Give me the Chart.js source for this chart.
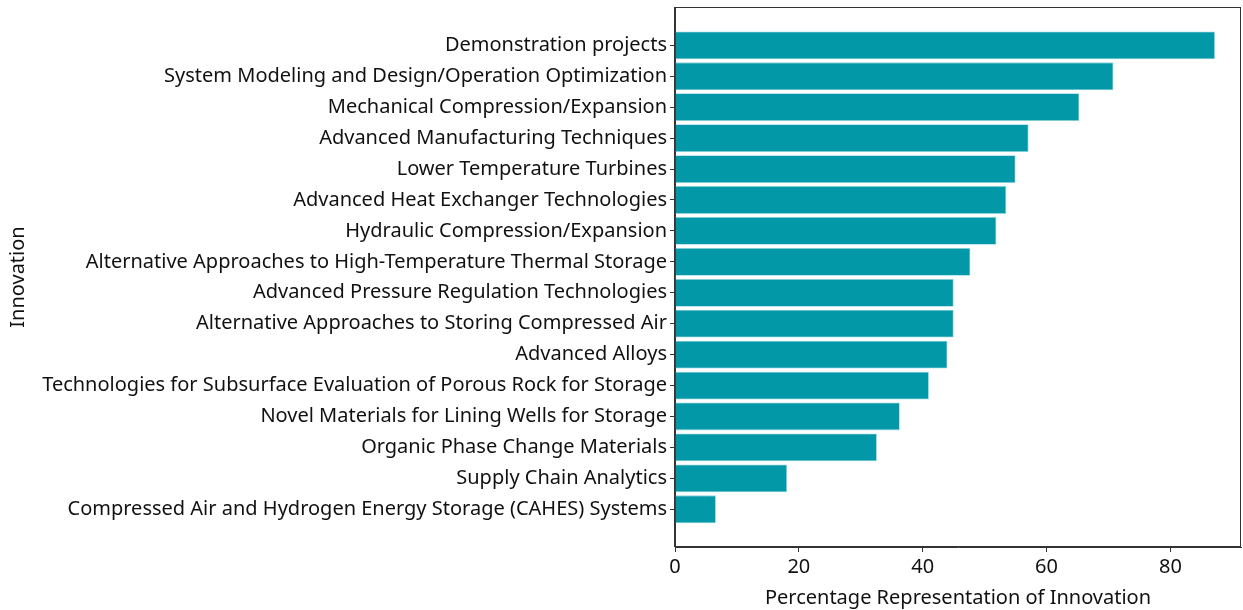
<!DOCTYPE html>
<html>
<head>
<meta charset="utf-8">
<script src="https://cdn.jsdelivr.net/npm/chart.js@4/dist/chart.umd.min.js"></script>
<style>
  html, body { margin: 0; padding: 0; background: #fff; }
  #wrap { width: 1243px; height: 610px; position: relative; }
</style>
</head>
<body>
<div id="wrap"><canvas id="c" width="1243" height="610"></canvas></div>
<script>
const categories = [
  "Demonstration projects",
  "System Modeling and Design/Operation Optimization",
  "Mechanical Compression/Expansion",
  "Advanced Manufacturing Techniques",
  "Lower Temperature Turbines",
  "Advanced Heat Exchanger Technologies",
  "Hydraulic Compression/Expansion",
  "Alternative Approaches to High-Temperature Thermal Storage",
  "Advanced Pressure Regulation Technologies",
  "Alternative Approaches to Storing Compressed Air",
  "Advanced Alloys",
  "Technologies for Subsurface Evaluation of Porous Rock for Storage",
  "Novel Materials for Lining Wells for Storage",
  "Organic Phase Change Materials",
  "Supply Chain Analytics",
  "Compressed Air and Hydrogen Energy Storage (CAHES) Systems"
];
const values = [87.2, 70.8, 65.3, 57.1, 55.0, 53.5, 51.9, 47.7, 45.0, 45.0, 44.0, 41.0, 36.3, 32.6, 18.1, 6.6];
const xTicks = [0, 20, 40, 60, 80];
const xTitle = "Percentage Representation of Innovation";
const yTitle = "Innovation";

const FONT = "'Noto Sans', 'Open Sans', sans-serif";
const TEXT = "#111";

const frame = {
  id: 'frame',
  afterDraw(chart) {
    const a = chart.chartArea, ctx = chart.ctx;
    ctx.save();
    ctx.strokeStyle = '#333';
    ctx.lineWidth = 1;
    ctx.strokeRect(Math.round(a.left) - 0.5, Math.round(a.top) + 0.5, Math.round(a.right - a.left), Math.round(a.bottom - a.top) - 1);
    ctx.restore();
  }
};

const data = values.map((v, i) => ({ x: v, y: i }));

new Chart(document.getElementById('c'), {
  type: 'bar',
  data: {
    datasets: [{
      data: data,
      backgroundColor: '#0398a8',
      borderColor: '#8fd3dc',
      borderWidth: 0.8,
      barPercentage: 0.9,
      categoryPercentage: 1.0
    }]
  },
  options: {
    indexAxis: 'y',
    responsive: false,
    animation: false,
    layout: { padding: { top: 5, right: 2, left: 0, bottom: 0 } },
    plugins: { legend: { display: false }, tooltip: { enabled: false } },
    scales: {
      x: {
        type: 'linear',
        min: 0,
        max: 91.4,
        afterBuildTicks(scale) { scale.ticks = xTicks.map(v => ({ value: v })); },
        afterFit(scale) { scale.height = 63; },
        ticks: { color: TEXT, font: { family: FONT, size: 20 }, padding: 3, maxRotation: 0 },
        grid: { drawOnChartArea: false, drawTicks: true, tickLength: 5, color: '#333' },
        border: { display: true, color: '#333' },
        title: { display: true, text: xTitle, color: TEXT, font: { family: FONT, size: 20 }, padding: { top: 4, bottom: 0 } }
      },
      y: {
        type: 'linear',
        reverse: true,
        offset: false,
        min: -1.24,
        max: 16.22,
        afterBuildTicks(scale) { scale.ticks = categories.map((c, i) => ({ value: i })); },
        afterFit(scale) { scale.width = 675; },
        ticks: {
          color: TEXT, font: { family: FONT, size: 20, lineHeight: 0.4 }, padding: 3,
          callback: (v) => categories[v] !== undefined ? categories[v] : ''
        },
        grid: { offset: false, drawOnChartArea: false, drawTicks: true, tickLength: 5, color: '#333' },
        border: { display: true, color: '#333' },
        title: { display: true, text: yTitle, color: TEXT, font: { family: FONT, size: 20 }, padding: { top: 6, bottom: 0 } }
      }
    }
  },
  plugins: [frame]
});
</script>
</body>
</html>
